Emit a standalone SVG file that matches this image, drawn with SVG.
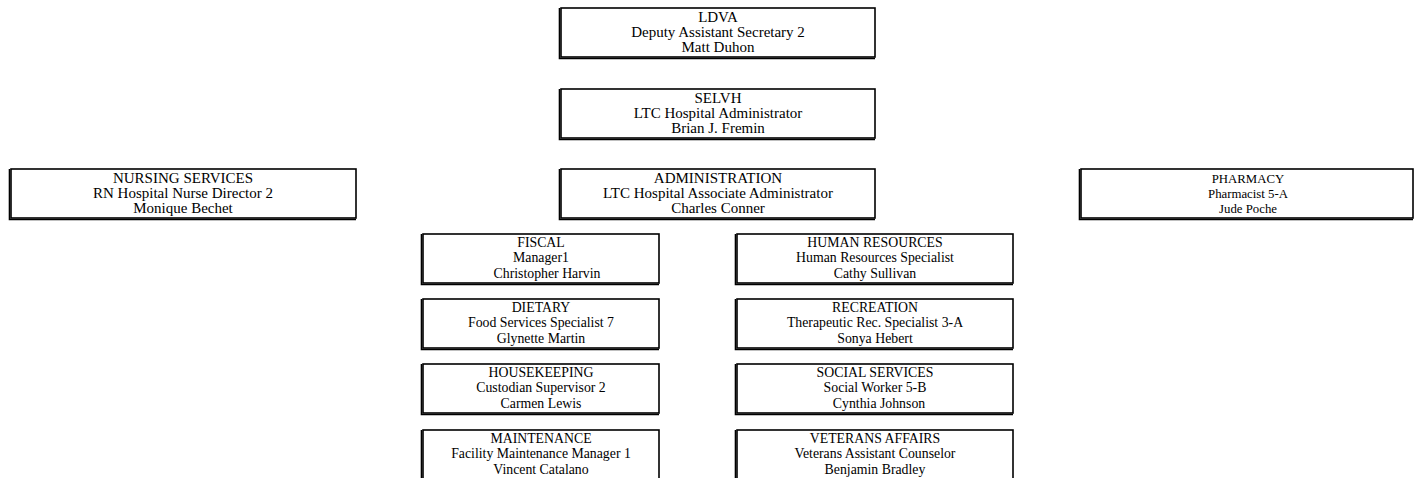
<svg xmlns="http://www.w3.org/2000/svg" width="1416" height="478" viewBox="0 0 1416 478">
<style>
.box{fill:#fff;stroke:#000;stroke-width:1.6}
.sh{fill:none;stroke:#000;stroke-width:1.6}
text{font-family:"Liberation Serif","Times New Roman",serif;fill:#000;text-anchor:middle}
.t1{font-size:15px}
.t2{font-size:13.8px}
.t3{font-size:12.8px}
</style>
<g id="connectors"></g>
<g id="ldva">
<rect class="box" x="561" y="8" width="314" height="49"/>
<path class="sh" d="M559.5,8 V58.5 H875"/>
<text class="t1" x="718" y="22">LDVA</text>
<text class="t1" x="718" y="37">Deputy Assistant Secretary 2</text>
<text class="t1" x="718" y="52">Matt Duhon</text>
</g>
<g id="selvh">
<rect class="box" x="561" y="89" width="314" height="49"/>
<path class="sh" d="M559.5,89 V139.5 H875"/>
<text class="t1" x="718" y="103">SELVH</text>
<text class="t1" x="718" y="118">LTC Hospital Administrator</text>
<text class="t1" x="718" y="133">Brian J. Fremin</text>
</g>
<g id="nursing">
<rect class="box" x="11" y="169" width="345" height="49"/>
<path class="sh" d="M9.5,169 V219.5 H356"/>
<text class="t1" x="183" y="183">NURSING SERVICES</text>
<text class="t1" x="183" y="198">RN Hospital Nurse Director 2</text>
<text class="t1" x="183" y="213">Monique Bechet</text>
</g>
<g id="administration">
<rect class="box" x="561" y="169" width="314" height="49"/>
<path class="sh" d="M559.5,169 V219.5 H875"/>
<text class="t1" x="718" y="183">ADMINISTRATION</text>
<text class="t1" x="718" y="198">LTC Hospital Associate Administrator</text>
<text class="t1" x="718" y="213">Charles Conner</text>
</g>
<g id="pharmacy">
<rect class="box" x="1081" y="169" width="332" height="49"/>
<path class="sh" d="M1079.5,169 V219.5 H1413"/>
<text class="t3" x="1248" y="183">PHARMACY</text>
<text class="t3" x="1248" y="198">Pharmacist 5-A</text>
<text class="t3" x="1248" y="213">Jude Poche</text>
</g>
<g id="fiscal">
<rect class="box" x="423" y="234" width="236" height="49"/>
<path class="sh" d="M421.5,234 V284.5 H659"/>
<text class="t2" x="541" y="247">FISCAL</text>
<text class="t2" x="541" y="262">Manager1</text>
<text class="t2" x="547" y="278">Christopher Harvin</text>
</g>
<g id="human-resources">
<rect class="box" x="737" y="234" width="276" height="49"/>
<path class="sh" d="M735.5,234 V284.5 H1013"/>
<text class="t2" x="875" y="247">HUMAN RESOURCES</text>
<text class="t2" x="875" y="262">Human Resources Specialist</text>
<text class="t2" x="875" y="278">Cathy Sullivan</text>
</g>
<g id="dietary">
<rect class="box" x="423" y="299" width="236" height="49"/>
<path class="sh" d="M421.5,299 V349.5 H659"/>
<text class="t2" x="541" y="312">DIETARY</text>
<text class="t2" x="541" y="327">Food Services Specialist 7</text>
<text class="t2" x="541" y="343">Glynette Martin</text>
</g>
<g id="recreation">
<rect class="box" x="737" y="299" width="276" height="49"/>
<path class="sh" d="M735.5,299 V349.5 H1013"/>
<text class="t2" x="875" y="312">RECREATION</text>
<text class="t2" x="875" y="327">Therapeutic Rec. Specialist 3-A</text>
<text class="t2" x="875" y="343">Sonya Hebert</text>
</g>
<g id="housekeeping">
<rect class="box" x="423" y="364" width="236" height="49"/>
<path class="sh" d="M421.5,364 V414.5 H659"/>
<text class="t2" x="541" y="377">HOUSEKEEPING</text>
<text class="t2" x="541" y="392">Custodian Supervisor 2</text>
<text class="t2" x="541" y="408">Carmen Lewis</text>
</g>
<g id="social-services">
<rect class="box" x="737" y="364" width="276" height="49"/>
<path class="sh" d="M735.5,364 V414.5 H1013"/>
<text class="t2" x="875" y="377">SOCIAL SERVICES</text>
<text class="t2" x="875" y="392">Social Worker 5-B</text>
<text class="t2" x="879" y="408">Cynthia Johnson</text>
</g>
<g id="maintenance">
<rect class="box" x="423" y="430" width="236" height="49"/>
<path class="sh" d="M421.5,430 V480.5 H659"/>
<text class="t2" x="541" y="443">MAINTENANCE</text>
<text class="t2" x="541" y="458">Facility Maintenance Manager 1</text>
<text class="t2" x="541" y="474">Vincent Catalano</text>
</g>
<g id="veterans-affairs">
<rect class="box" x="737" y="430" width="276" height="49"/>
<path class="sh" d="M735.5,430 V480.5 H1013"/>
<text class="t2" x="875" y="443">VETERANS AFFAIRS</text>
<text class="t2" x="875" y="458">Veterans Assistant Counselor</text>
<text class="t2" x="875" y="474">Benjamin Bradley</text>
</g>
</svg>
